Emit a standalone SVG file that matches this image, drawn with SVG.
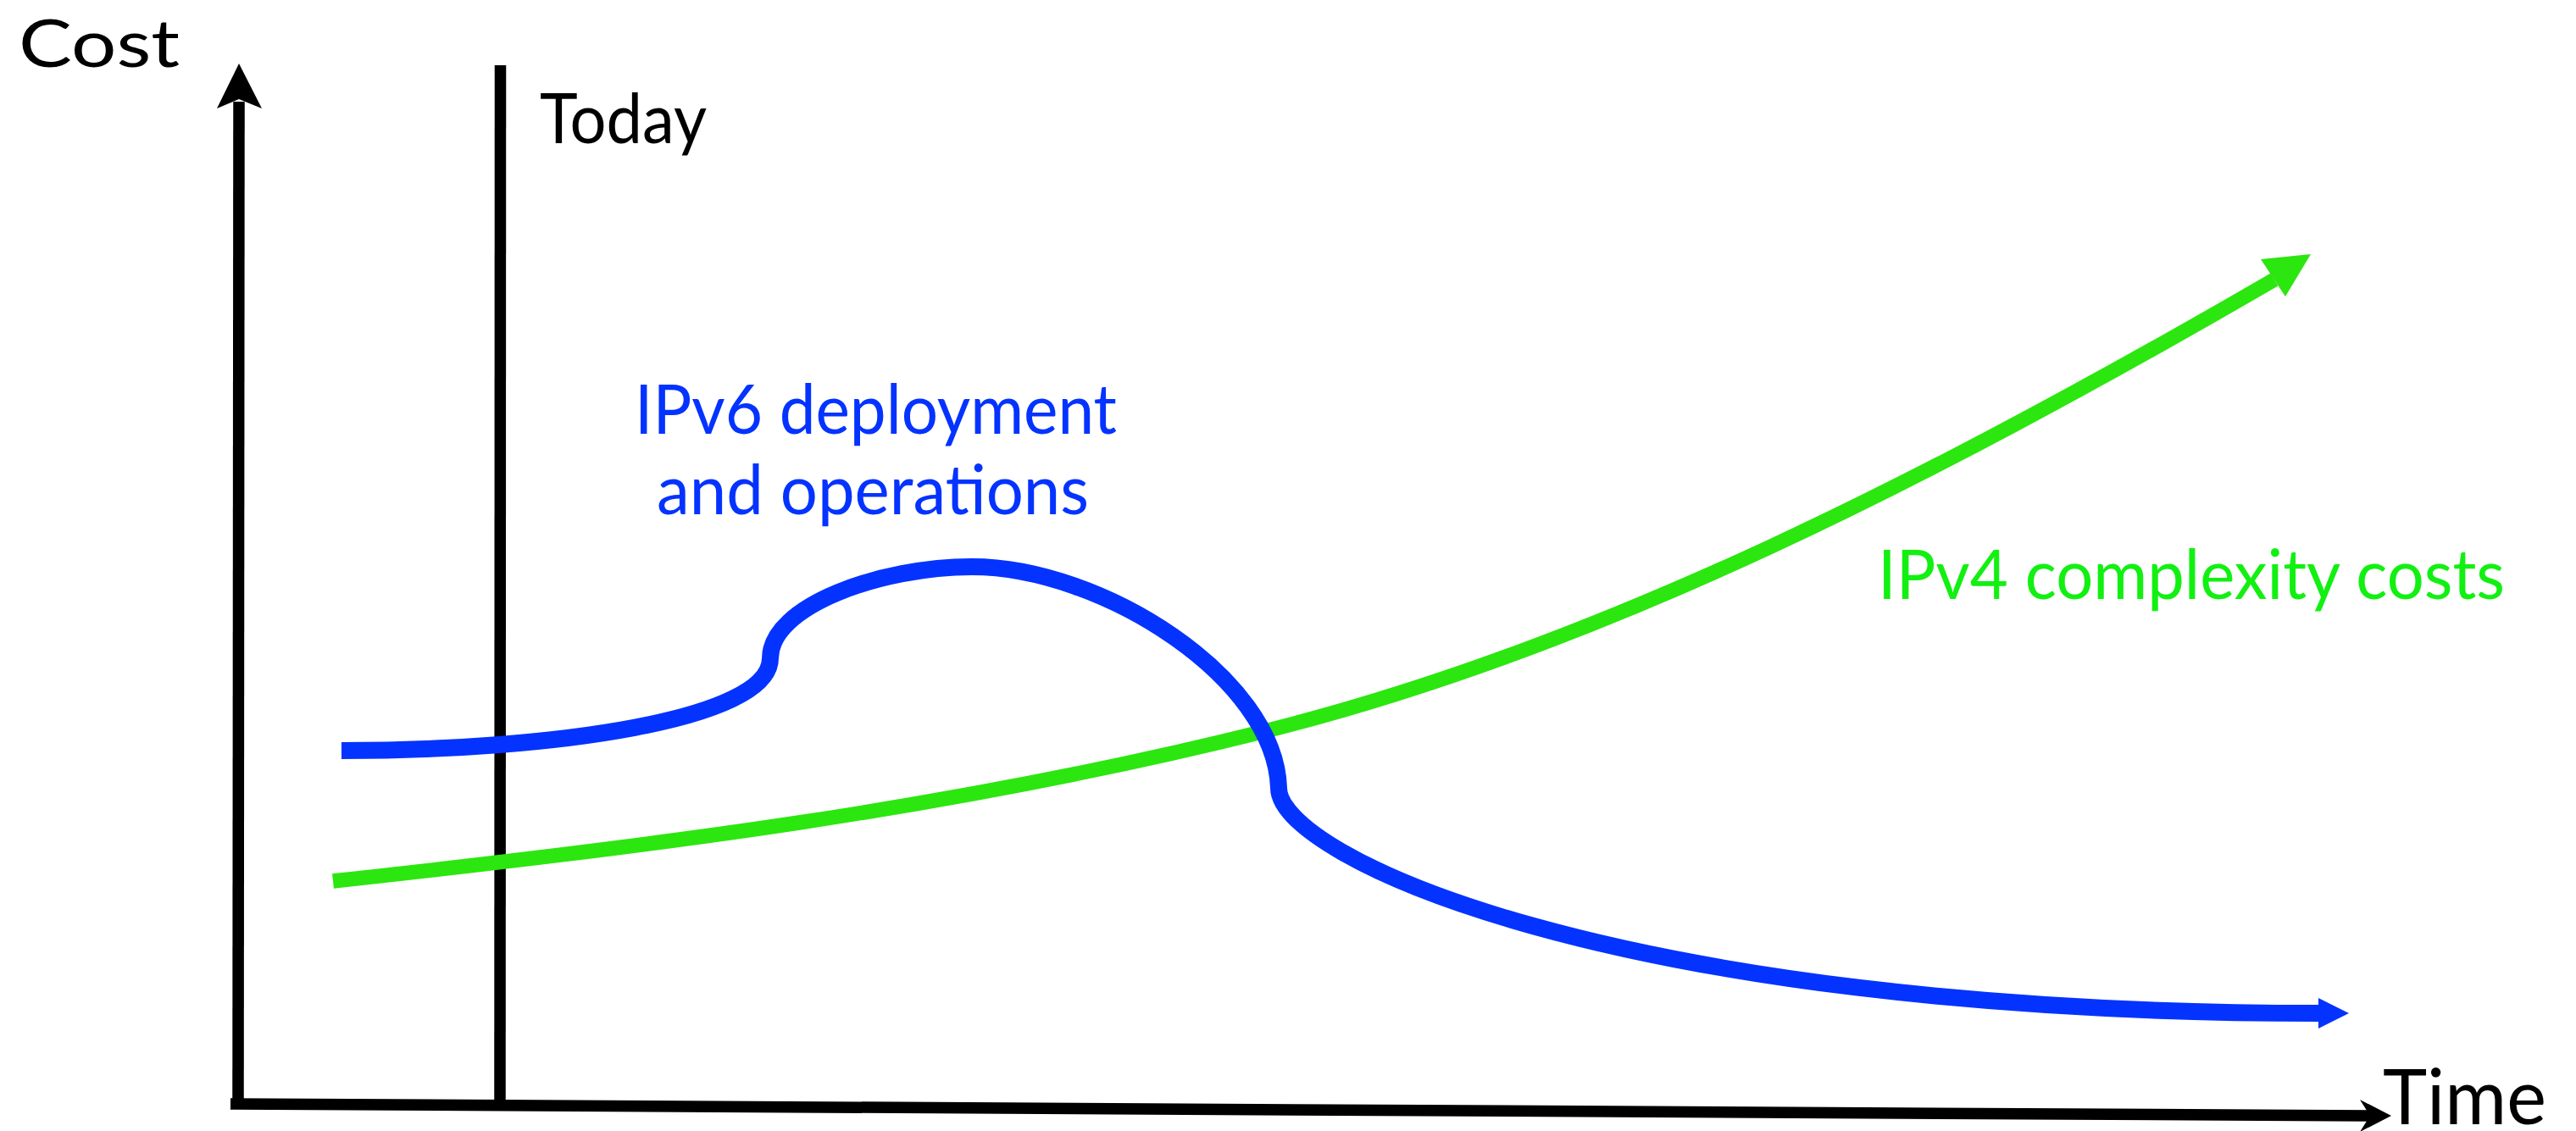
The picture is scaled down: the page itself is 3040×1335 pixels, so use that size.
<svg xmlns="http://www.w3.org/2000/svg" width="3040" height="1335" viewBox="0 0 3040 1335">
  <style>
    .axis { stroke: #000; stroke-width: 13.5; fill: none; }
    .head-k { fill: #000; }
    .blue { stroke: #0433FF; stroke-width: 20; fill: none; }
    .head-b { fill: #0433FF; }
    .green { stroke: #2CE60F; stroke-width: 17.5; fill: none; }
    .head-g { fill: #2CE60F; }
    .lbl { font-family: Lato, "Liberation Sans", sans-serif; }
    .k { fill: #000; }
    .tb { fill: #0433FF; font-size: 82px; }
    .tg { fill: #12F012; font-size: 82px; }
  </style>
  <rect width="3040" height="1335" fill="#fff"/>

  <g id="axes">
    <line class="axis" x1="281" y1="1303" x2="282" y2="120"/>
    <polygon class="head-k" points="282,75 309,128 282,117 256,128"/>
    <line class="axis" x1="272" y1="1303" x2="2800" y2="1317"/>
    <polygon class="head-k" points="2822,1317 2785,1336 2797,1317 2785,1298"/>
    <line class="axis" x1="590.5" y1="77" x2="590" y2="1304"/>
  </g>

  <g id="ipv4-curve">
    <path class="green" d="M393,1040 C760,1000 1126,955 1493,863 C1890,764 2288,560 2684,330"/>
    <polygon class="head-g" points="2727,300 2668,306 2697,350"/>
  </g>

  <g id="ipv6-curve">
    <path class="blue" d="M403,886 C650,886 909,850 909,777 C909,715 1040,669 1147,669 C1300,669 1505,800 1509,930 C1509,1010 1900,1196 2738,1196"/>
    <polygon class="head-b" points="2772,1196 2736,1178 2736,1214"/>
  </g>

  <g id="labels" class="lbl">
    <text class="k" x="22" y="79" font-size="77" textLength="190" lengthAdjust="spacingAndGlyphs">Cost</text>
    <text class="k" x="637" y="169" font-size="81" textLength="197" lengthAdjust="spacingAndGlyphs">Today</text>
    <text class="k" x="2812" y="1327" font-size="92" textLength="193" lengthAdjust="spacingAndGlyphs">Time</text>
    <text class="tb" x="749" y="512" textLength="569" lengthAdjust="spacingAndGlyphs">IPv6 deployment</text>
    <text class="tb" x="775" y="607" textLength="510" lengthAdjust="spacingAndGlyphs">and operations</text>
    <text class="tg" x="2216" y="707" textLength="740" lengthAdjust="spacingAndGlyphs">IPv4 complexity costs</text>
  </g>
</svg>
